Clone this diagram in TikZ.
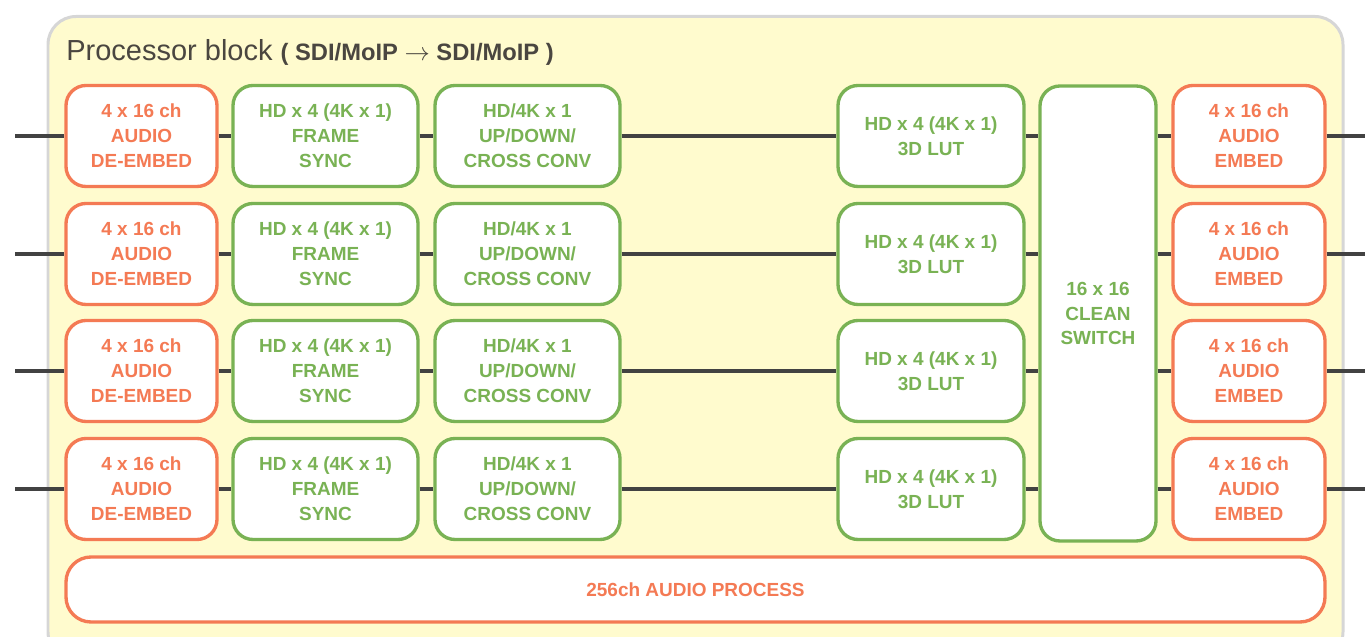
\documentclass[tikz,border=0pt]{standalone}
\usepackage{fontspec}
\setmainfont{Liberation Sans}
\usetikzlibrary{positioning}
\definecolor{audiocol}{RGB}{244,122,84}
\definecolor{videocol}{RGB}{121,178,84}
\definecolor{wirecol}{RGB}{66,66,66}
\definecolor{panelfill}{RGB}{255,251,206}
\definecolor{panelline}{RGB}{214,214,214}
\definecolor{titlecol}{RGB}{74,70,64}

\begin{document}
\begin{tikzpicture}[
  blk/.style={draw,fill=white,line width=1.9pt,rounded corners=0.4cm,
    align=center,inner sep=0pt,minimum height=2.02cm,
    font=\fontsize{10.8}{14.2}\selectfont\bfseries},
  aud/.style={blk,draw=audiocol,text=audiocol},
  vid/.style={blk,draw=videocol,text=videocol},
  wire/.style={draw=wirecol,line width=2pt}]
\useasboundingbox (0,0) rectangle (27.3,-12.74);
\draw[panelline,fill=panelfill,line width=1.7pt,rounded corners=0.56cm]
  (0.96,-0.33) rectangle (26.86,-13.2);
\node[anchor=base west,text=titlecol,inner sep=0pt] (T) at (1.32,-1.22)
  {\fontsize{16.5}{18}\selectfont Processor block \fontsize{13.5}{15}\selectfont\bfseries( SDI/MoIP $\rightarrow$ SDI/MoIP )};

\node[vid,minimum width=2.32cm,minimum height=9.1cm] (Sw) at (21.96,-6.27)
  {16 x 16\\CLEAN\\SWITCH};
\node[aud,minimum width=25.18cm,minimum height=1.3cm,rounded corners=0.5cm] (Ap) at (13.91,-11.79)
  {256ch AUDIO PROCESS};

\begin{scope}[yshift=-2.72cm]
\node[aud,minimum width=3.02cm](De) at (2.83,0){4 x 16 ch\\AUDIO\\DE-EMBED};
\node[vid,minimum width=3.7cm](Fs) at (6.51,0){HD x 4 (4K x 1)\\FRAME\\SYNC};
\node[vid,minimum width=3.7cm](Uc) at (10.55,0){HD/4K x 1\\UP/DOWN/\\CROSS CONV};
\node[vid,minimum width=3.72cm](Lut) at (18.62,0){HD x 4 (4K x 1)\\3D LUT};
\node[aud,minimum width=3.04cm](Em) at (24.98,0){4 x 16 ch\\AUDIO\\EMBED};
\coordinate(In) at (0.3,0);
\coordinate(Out) at (27.3,0);
\draw[wire](In)--(De);
\draw[wire](De)--(Fs);
\draw[wire](Fs)--(Uc);
\draw[wire](Uc)--(Lut);
\draw[wire](Lut.east)--(Lut.east-|Sw.west);
\draw[wire](Em.west-|Sw.east)--(Em.west);
\draw[wire](Em)--(Out);
\end{scope}

\begin{scope}[yshift=-5.08cm]
\node[aud,minimum width=3.02cm](De) at (2.83,0){4 x 16 ch\\AUDIO\\DE-EMBED};
\node[vid,minimum width=3.7cm](Fs) at (6.51,0){HD x 4 (4K x 1)\\FRAME\\SYNC};
\node[vid,minimum width=3.7cm](Uc) at (10.55,0){HD/4K x 1\\UP/DOWN/\\CROSS CONV};
\node[vid,minimum width=3.72cm](Lut) at (18.62,0){HD x 4 (4K x 1)\\3D LUT};
\node[aud,minimum width=3.04cm](Em) at (24.98,0){4 x 16 ch\\AUDIO\\EMBED};
\coordinate(In) at (0.3,0);
\coordinate(Out) at (27.3,0);
\draw[wire](In)--(De);
\draw[wire](De)--(Fs);
\draw[wire](Fs)--(Uc);
\draw[wire](Uc)--(Lut);
\draw[wire](Lut.east)--(Lut.east-|Sw.west);
\draw[wire](Em.west-|Sw.east)--(Em.west);
\draw[wire](Em)--(Out);
\end{scope}

\begin{scope}[yshift=-7.42cm]
\node[aud,minimum width=3.02cm](De) at (2.83,0){4 x 16 ch\\AUDIO\\DE-EMBED};
\node[vid,minimum width=3.7cm](Fs) at (6.51,0){HD x 4 (4K x 1)\\FRAME\\SYNC};
\node[vid,minimum width=3.7cm](Uc) at (10.55,0){HD/4K x 1\\UP/DOWN/\\CROSS CONV};
\node[vid,minimum width=3.72cm](Lut) at (18.62,0){HD x 4 (4K x 1)\\3D LUT};
\node[aud,minimum width=3.04cm](Em) at (24.98,0){4 x 16 ch\\AUDIO\\EMBED};
\coordinate(In) at (0.3,0);
\coordinate(Out) at (27.3,0);
\draw[wire](In)--(De);
\draw[wire](De)--(Fs);
\draw[wire](Fs)--(Uc);
\draw[wire](Uc)--(Lut);
\draw[wire](Lut.east)--(Lut.east-|Sw.west);
\draw[wire](Em.west-|Sw.east)--(Em.west);
\draw[wire](Em)--(Out);
\end{scope}

\begin{scope}[yshift=-9.78cm]
\node[aud,minimum width=3.02cm](De) at (2.83,0){4 x 16 ch\\AUDIO\\DE-EMBED};
\node[vid,minimum width=3.7cm](Fs) at (6.51,0){HD x 4 (4K x 1)\\FRAME\\SYNC};
\node[vid,minimum width=3.7cm](Uc) at (10.55,0){HD/4K x 1\\UP/DOWN/\\CROSS CONV};
\node[vid,minimum width=3.72cm](Lut) at (18.62,0){HD x 4 (4K x 1)\\3D LUT};
\node[aud,minimum width=3.04cm](Em) at (24.98,0){4 x 16 ch\\AUDIO\\EMBED};
\coordinate(In) at (0.3,0);
\coordinate(Out) at (27.3,0);
\draw[wire](In)--(De);
\draw[wire](De)--(Fs);
\draw[wire](Fs)--(Uc);
\draw[wire](Uc)--(Lut);
\draw[wire](Lut.east)--(Lut.east-|Sw.west);
\draw[wire](Em.west-|Sw.east)--(Em.west);
\draw[wire](Em)--(Out);
\end{scope}
\end{tikzpicture}
\end{document}
